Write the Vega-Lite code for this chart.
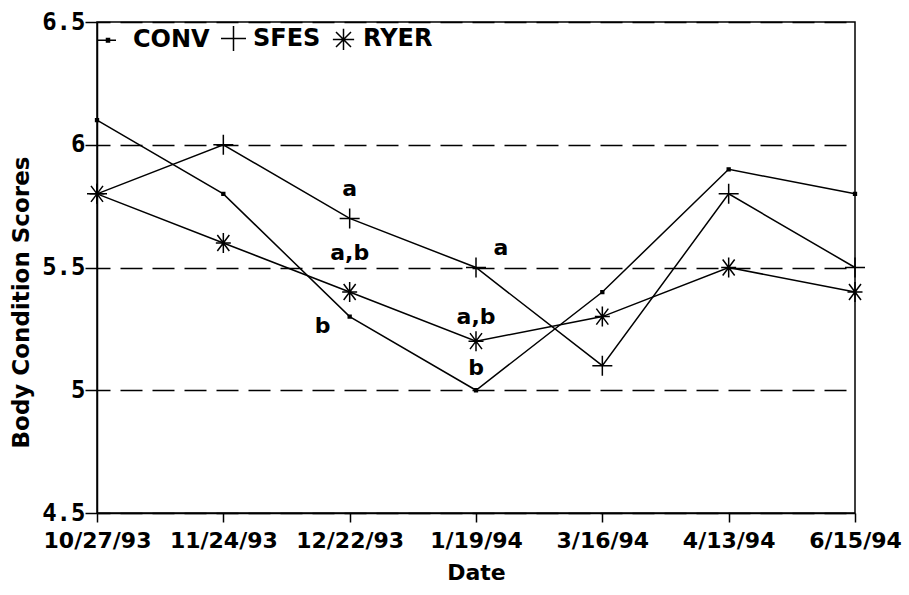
{
  "$schema": "https://vega.github.io/schema/vega-lite/v6.json",
  "width": 758,
  "height": 491,
  "autosize": "none",
  "padding": {"left": 97, "top": 22, "right": 54, "bottom": 82},
  "background": "white",
  "config": {
    "view": {"stroke": "black", "strokeWidth": 1.5},
    "axis": {
      "domainColor": "black", "domainWidth": 1.5, "tickColor": "black", "tickWidth": 1.5,
      "labelColor": "black", "titleColor": "black",
      "titleFont": "DejaVu Sans", "titleFontWeight": "bold", "titleFontSize": 22
    }
  },
  "datasets": {
    "scores": [
      {"date": "10/27/93", "series": "CONV", "score": 6.1},
      {"date": "11/24/93", "series": "CONV", "score": 5.8},
      {"date": "12/22/93", "series": "CONV", "score": 5.3},
      {"date": "1/19/94", "series": "CONV", "score": 5.0},
      {"date": "3/16/94", "series": "CONV", "score": 5.4},
      {"date": "4/13/94", "series": "CONV", "score": 5.9},
      {"date": "6/15/94", "series": "CONV", "score": 5.8},
      {"date": "10/27/93", "series": "SFES", "score": 5.8},
      {"date": "11/24/93", "series": "SFES", "score": 6.0},
      {"date": "12/22/93", "series": "SFES", "score": 5.7},
      {"date": "1/19/94", "series": "SFES", "score": 5.5},
      {"date": "3/16/94", "series": "SFES", "score": 5.1},
      {"date": "4/13/94", "series": "SFES", "score": 5.8},
      {"date": "6/15/94", "series": "SFES", "score": 5.5},
      {"date": "10/27/93", "series": "RYER", "score": 5.8},
      {"date": "11/24/93", "series": "RYER", "score": 5.6},
      {"date": "12/22/93", "series": "RYER", "score": 5.4},
      {"date": "1/19/94", "series": "RYER", "score": 5.2},
      {"date": "3/16/94", "series": "RYER", "score": 5.3},
      {"date": "4/13/94", "series": "RYER", "score": 5.5},
      {"date": "6/15/94", "series": "RYER", "score": 5.4}
    ],
    "notes": [
      {"date": "12/22/93", "label": "a", "score": 5.82},
      {"date": "12/22/93", "label": "a,b", "score": 5.56},
      {"date": "12/22/93", "label": "b", "score": 5.26},
      {"date": "1/19/94", "label": "a", "score": 5.58},
      {"date": "1/19/94", "label": "a,b", "score": 5.30},
      {"date": "1/19/94", "label": "b", "score": 5.09}
    ]
  },
  "encoding": {
    "x": {
      "field": "date", "type": "ordinal",
      "sort": ["10/27/93", "11/24/93", "12/22/93", "1/19/94", "3/16/94", "4/13/94", "6/15/94"],
      "scale": {"type": "point", "padding": 0},
      "axis": {
        "title": "Date", "labelAngle": 0, "labelFont": "DejaVu Sans", "labelFontSize": 22,
        "labelFontWeight": "bold", "tickSize": 9, "labelPadding": 8, "titlePadding": 11, "grid": false
      }
    },
    "y": {
      "field": "score", "type": "quantitative",
      "scale": {"domain": [4.5, 6.5], "nice": false, "zero": false},
      "axis": {
        "title": "Body Condition Scores", "values": [4.5, 5, 5.5, 6, 6.5], "format": ".1~f",
        "labelFont": "DejaVu Sans Mono", "labelFontSize": 24, "labelFontWeight": "bold",
        "labelPadding": 0, "tickSize": 12, "grid": true, "gridColor": "black", "gridWidth": 1.3,
        "gridDash": [22, 10], "gridDashOffset": 9, "titlePadding": 8,
        "titleFontSize": 23, "titleY": 280
      }
    }
  },
  "layer": [
    {
      "data": {"name": "scores"},
      "mark": {"type": "line", "color": "black", "strokeWidth": 1.5},
      "encoding": {"detail": {"field": "series"}}
    },
    {
      "data": {"name": "scores"},
      "mark": {"type": "point", "filled": true, "color": "black", "stroke": "black", "strokeWidth": 1.5, "size": 400, "opacity": 1},
      "encoding": {
        "shape": {
          "field": "series", "type": "nominal", "legend": null,
          "scale": {
            "domain": ["CONV", "SFES", "RYER"],
            "range": [
              "M-0.14,-0.14H0.14V0.14H-0.14Z",
              "M-1,0H1M0,-1V1",
              "M-0.75,0H0.75M0,-1V1M-0.6,-0.8L0.6,0.8M-0.6,0.8L0.6,-0.8"
            ]
          }
        }
      }
    },
    {
      "data": {"name": "scores"},
      "mark": {"type": "point", "filled": false, "color": "black", "strokeWidth": 1.5, "size": 0},
      "encoding": {
        "shape": {
          "field": "series", "type": "nominal",
          "scale": {
            "domain": ["CONV", "SFES", "RYER"],
            "range": [
              "M-1.3,0L0.2,0M-0.62,-0.14L-0.26,-0.14M-0.62,0.14L-0.26,0.14M-0.62,-0.07L-0.26,-0.07M-0.62,0.07L-0.26,0.07",
              "M-1,0H1M0,-1V1",
              "M-0.85,0H0.85M0,-0.85V0.85M-0.6,-0.6L0.6,0.6M-0.6,0.6L0.6,-0.6"
            ]
          },
          "legend": {
            "title": null, "orient": "top-left", "direction": "horizontal", "offset": 3, "padding": 0,
            "labelFont": "DejaVu Sans", "labelFontSize": 24, "labelFontWeight": "bold", "labelColor": "black",
            "labelOffset": 6, "columnPadding": 8, "symbolSize": 625, "symbolOpacity": 1,
            "symbolFillColor": "black", "symbolStrokeColor": "black", "symbolStrokeWidth": 1.5
          }
        }
      }
    },
    {
      "data": {"name": "notes"},
      "transform": [{"filter": "!(datum.label == 'b' && datum.date == '12/22/93') && !(datum.label == 'a' && datum.date == '1/19/94')"}],
      "mark": {"type": "text", "font": "DejaVu Sans", "fontSize": 22, "fontWeight": "bold", "color": "black", "baseline": "middle"},
      "encoding": {"text": {"field": "label"}}
    },
    {
      "data": {"name": "notes"},
      "transform": [{"filter": "datum.label == 'b' && datum.date == '12/22/93'"}],
      "mark": {"type": "text", "font": "DejaVu Sans", "fontSize": 22, "fontWeight": "bold", "color": "black", "baseline": "middle", "dx": -27},
      "encoding": {"text": {"field": "label"}}
    },
    {
      "data": {"name": "notes"},
      "transform": [{"filter": "datum.label == 'a' && datum.date == '1/19/94'"}],
      "mark": {"type": "text", "font": "DejaVu Sans", "fontSize": 22, "fontWeight": "bold", "color": "black", "baseline": "middle", "dx": 25},
      "encoding": {"text": {"field": "label"}}
    }
  ],
  "resolve": {"scale": {"shape": "independent"}, "legend": {"shape": "independent"}}
}
